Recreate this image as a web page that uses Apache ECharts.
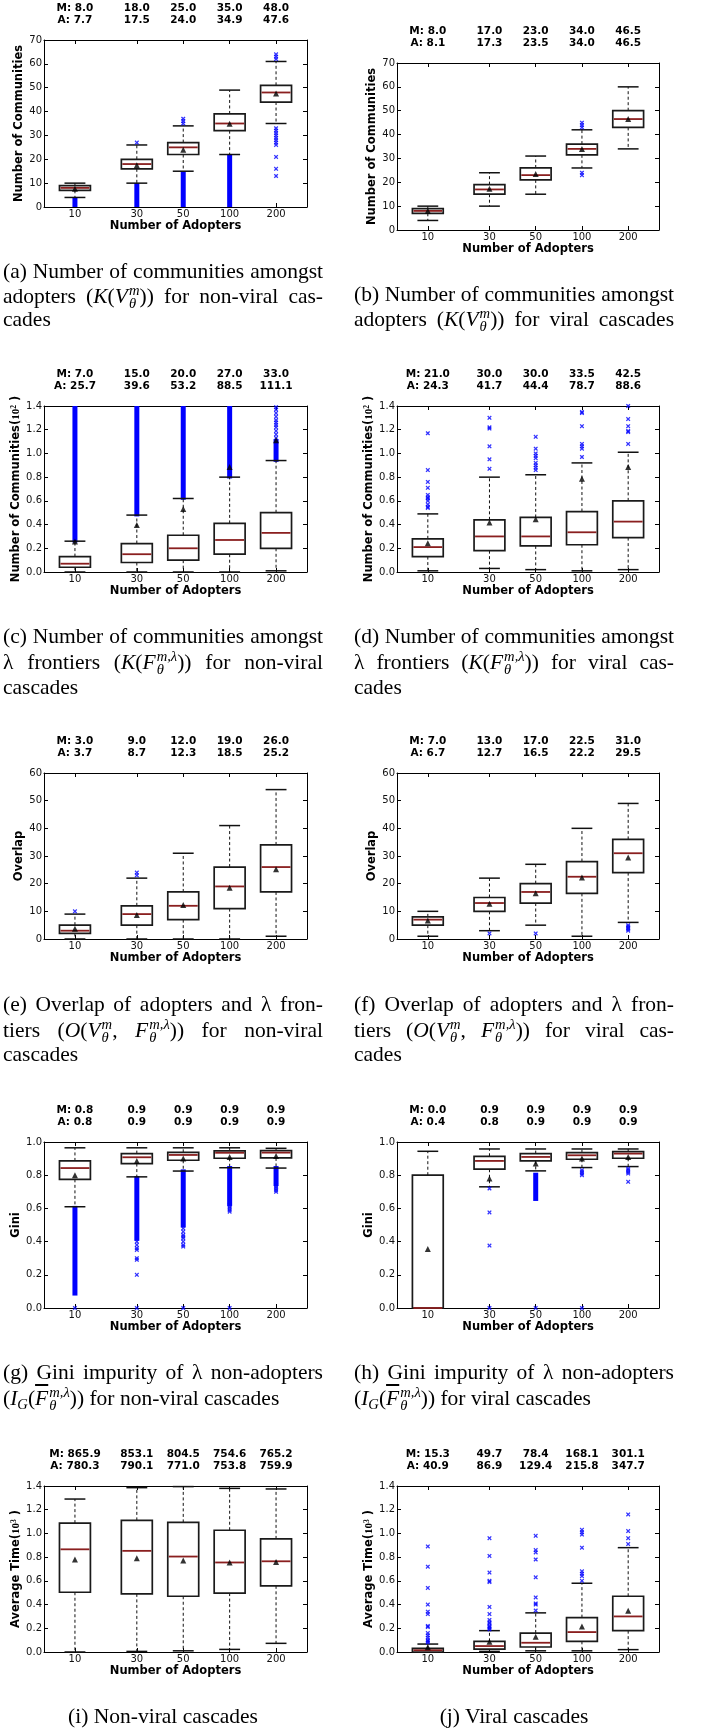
<!DOCTYPE html>
<html><head><meta charset="utf-8">
<script src="https://cdn.jsdelivr.net/npm/echarts@6/dist/echarts.min.js"></script>
<style>
html,body{margin:0;padding:0;background:#fff;}
#chart{position:absolute;left:0;top:0;width:701px;height:1729px;}
.cap{position:absolute;font-family:'Liberation Serif','Times New Roman',serif;font-size:21.5px;line-height:26px;height:26px;white-space:nowrap;color:#000;}
.j{text-align:justify;text-align-last:justify;width:320px;}
.mi{font-style:italic;}
.ss{display:inline-flex;flex-direction:column;font-size:0.68em;line-height:0.9;vertical-align:0.55em;font-style:italic;margin-left:1px;}
.sb{font-size:0.68em;vertical-align:-0.3em;font-style:italic;}
.ob{text-decoration:overline;}
</style></head>
<body>
<div id="chart"></div>

<div class="cap j" style="left:3px;top:258px;">(a) Number of communities amongst</div>
<div class="cap j" style="left:3px;top:283px;">adopters (<span class="mi">K</span>(<span class="mi">V</span><span class="ss"><span>m</span><span>θ</span></span>)) for non-viral cas-</div>
<div class="cap" style="left:3px;top:306px;">cades</div>

<div class="cap j" style="left:354px;top:281px;">(b) Number of communities amongst</div>
<div class="cap j" style="left:354px;top:306px;">adopters (<span class="mi">K</span>(<span class="mi">V</span><span class="ss"><span>m</span><span>θ</span></span>)) for viral cascades</div>

<div class="cap j" style="left:3px;top:623px;">(c) Number of communities amongst</div>
<div class="cap j" style="left:3px;top:649px;">λ frontiers (<span class="mi">K</span>(<span class="mi">F</span><span class="ss"><span>m,λ</span><span>θ</span></span>)) for non-viral</div>
<div class="cap" style="left:3px;top:674px;">cascades</div>

<div class="cap j" style="left:354px;top:623px;">(d) Number of communities amongst</div>
<div class="cap j" style="left:354px;top:649px;">λ frontiers (<span class="mi">K</span>(<span class="mi">F</span><span class="ss"><span>m,λ</span><span>θ</span></span>)) for viral cas-</div>
<div class="cap" style="left:354px;top:674px;">cades</div>

<div class="cap j" style="left:3px;top:991px;">(e) Overlap of adopters and λ fron-</div>
<div class="cap j" style="left:3px;top:1017px;">tiers (<span class="mi">O</span>(<span class="mi">V</span><span class="ss"><span>m</span><span>θ</span></span>, <span class="mi">F</span><span class="ss"><span>m,λ</span><span>θ</span></span>)) for non-viral</div>
<div class="cap" style="left:3px;top:1041px;">cascades</div>

<div class="cap j" style="left:354px;top:991px;">(f) Overlap of adopters and λ fron-</div>
<div class="cap j" style="left:354px;top:1017px;">tiers (<span class="mi">O</span>(<span class="mi">V</span><span class="ss"><span>m</span><span>θ</span></span>, <span class="mi">F</span><span class="ss"><span>m,λ</span><span>θ</span></span>)) for viral cas-</div>
<div class="cap" style="left:354px;top:1041px;">cades</div>

<div class="cap j" style="left:3px;top:1359px;">(g) Gini impurity of λ non-adopters</div>
<div class="cap" style="left:3px;top:1385px;">(<span class="mi">I</span><span class="sb">G</span>(<span class="mi ob">F</span><span class="ss"><span>m,λ</span><span>θ</span></span>)) for non-viral cascades</div>

<div class="cap j" style="left:354px;top:1359px;">(h) Gini impurity of λ non-adopters</div>
<div class="cap" style="left:354px;top:1385px;">(<span class="mi">I</span><span class="sb">G</span>(<span class="mi ob">F</span><span class="ss"><span>m,λ</span><span>θ</span></span>)) for viral cascades</div>

<div class="cap" style="left:3px;top:1703px;width:320px;text-align:center;">(i) Non-viral cascades</div>
<div class="cap" style="left:354px;top:1703px;width:320px;text-align:center;">(j) Viral cascades</div>

<script>
// ---------- shared x categories ----------
const X_POS = [2, 6, 9, 12, 15];
const X_LABELS = ['10', '30', '50', '100', '200'];

// ---------- (a) communities amongst adopters, non-viral ----------
const A_LOW  = [4, 10, 15, 22, 35];
const A_Q1   = [7, 16, 22, 32, 44];
const A_MED  = [8, 18, 25, 35, 48];
const A_Q3   = [9, 20, 27, 39, 51];
const A_HIGH = [10, 26, 34, 49, 61];
const A_MEAN = [7.7, 17.5, 24.0, 34.9, 47.6];
const A_STAT_M = [8.0, 18.0, 25.0, 35.0, 48.0];
const A_STAT_A = [7.7, 17.5, 24.0, 34.9, 47.6];
const A_BAND = [[0, 0, 3], [1, 0, 9], [2, 0, 14], [3, 0, 21]];
const A_OUT = [[1, 27], [2, 35], [2, 36], [2, 37], [4, 62], [4, 63], [4, 64], [4, 33], [4, 32], [4, 31], [4, 30], [4, 29], [4, 28], [4, 27], [4, 26], [4, 21], [4, 16], [4, 13]];

// ---------- (b) communities amongst adopters, viral ----------
const B_LOW  = [4, 10, 15, 26, 34];
const B_Q1   = [7, 15, 21, 31.5, 43];
const B_MED  = [8, 17, 23, 34, 46.5];
const B_Q3   = [9, 19, 26, 36, 50];
const B_HIGH = [10, 24, 31, 42, 60];
const B_MEAN = [8.1, 17.3, 23.5, 34.0, 46.5];
const B_STAT_M = [8.0, 17.0, 23.0, 34.0, 46.5];
const B_STAT_A = [8.1, 17.3, 23.5, 34.0, 46.5];
const B_BAND = [];
const B_OUT = [[3, 43], [3, 44], [3, 45], [3, 23], [3, 24]];

// ---------- (c) communities amongst frontiers, non-viral (x10^2) ----------
const C_LOW  = [0, 0, 0, 0, 0.01];
const C_Q1   = [0.04, 0.08, 0.10, 0.15, 0.20];
const C_MED  = [0.07, 0.15, 0.20, 0.27, 0.33];
const C_Q3   = [0.13, 0.24, 0.31, 0.41, 0.50];
const C_HIGH = [0.26, 0.48, 0.62, 0.80, 0.94];
const C_MEAN = [0.257, 0.396, 0.532, 0.885, 1.111];
const C_STAT_M = [7.0, 15.0, 20.0, 27.0, 33.0];
const C_STAT_A = [25.7, 39.6, 53.2, 88.5, 111.1];
const C_BAND = [[0, 0.27, 1.4], [1, 0.49, 1.4], [2, 0.63, 1.4], [3, 0.81, 1.4], [4, 0.95, 1.10]];
const C_OUT = [[4, 1.13], [4, 1.16], [4, 1.19], [4, 1.22], [4, 1.24], [4, 1.26], [4, 1.28], [4, 1.31], [4, 1.34], [4, 1.37], [4, 1.39]];

// ---------- (d) communities amongst frontiers, viral (x10^2) ----------
const D_LOW  = [0.01, 0.03, 0.02, 0.01, 0.02];
const D_Q1   = [0.13, 0.18, 0.22, 0.23, 0.29];
const D_MED  = [0.21, 0.30, 0.30, 0.335, 0.425];
const D_Q3   = [0.28, 0.44, 0.46, 0.51, 0.60];
const D_HIGH = [0.49, 0.80, 0.82, 0.92, 1.01];
const D_MEAN = [0.243, 0.417, 0.444, 0.787, 0.886];
const D_STAT_M = [21.0, 30.0, 30.0, 33.5, 42.5];
const D_STAT_A = [24.3, 41.7, 44.4, 78.7, 88.6];
const D_BAND = [];
const D_OUT = [
  [0, 1.17], [0, 0.86], [0, 0.76], [0, 0.71], [0, 0.65], [0, 0.63], [0, 0.62], [0, 0.60], [0, 0.57], [0, 0.55], [0, 0.54],
  [1, 1.30], [1, 1.22], [1, 1.21], [1, 1.06], [1, 0.95], [1, 0.87],
  [2, 1.14], [2, 1.04], [2, 1.00], [2, 0.98], [2, 0.96], [2, 0.92], [2, 0.90], [2, 0.88], [2, 0.86],
  [3, 1.35], [3, 1.34], [3, 1.23], [3, 1.08], [3, 1.06], [3, 1.04], [3, 0.97],
  [4, 1.40], [4, 1.29], [4, 1.23], [4, 1.19], [4, 1.18], [4, 1.08]
];

// ---------- (e) overlap, non-viral ----------
const E_LOW  = [0, 0, 0, 0, 1];
const E_Q1   = [2, 5, 7, 11, 17];
const E_MED  = [3, 9, 12, 19, 26];
const E_Q3   = [5, 12, 17, 26, 34];
const E_HIGH = [9, 22, 31, 41, 54];
const E_MEAN = [3.7, 8.7, 12.3, 18.5, 25.2];
const E_STAT_M = [3.0, 9.0, 12.0, 19.0, 26.0];
const E_STAT_A = [3.7, 8.7, 12.3, 18.5, 25.2];
const E_BAND = [];
const E_OUT = [[0, 10], [1, 23], [1, 24]];

// ---------- (f) overlap, viral ----------
const F_LOW  = [1, 3, 5, 1, 6];
const F_Q1   = [5, 10, 13, 16.5, 24];
const F_MED  = [7, 13, 17, 22.5, 31];
const F_Q3   = [8, 15, 20, 28, 36];
const F_HIGH = [10, 22, 27, 40, 49];
const F_MEAN = [6.7, 12.7, 16.5, 22.2, 29.5];
const F_STAT_M = [7.0, 13.0, 17.0, 22.5, 31.0];
const F_STAT_A = [6.7, 12.7, 16.5, 22.2, 29.5];
const F_BAND = [];
const F_OUT = [[1, 2], [2, 2], [4, 5], [4, 4.5], [4, 4], [4, 3.5], [4, 3]];

// ---------- (g) Gini, non-viral ----------
const G_LOW  = [0.61, 0.79, 0.825, 0.845, 0.843];
const G_Q1   = [0.775, 0.87, 0.89, 0.902, 0.904];
const G_MED  = [0.843, 0.908, 0.922, 0.935, 0.936];
const G_Q3   = [0.886, 0.93, 0.938, 0.946, 0.948];
const G_HIGH = [0.965, 0.965, 0.965, 0.965, 0.962];
const G_MEAN = [0.80, 0.885, 0.90, 0.91, 0.915];
const G_STAT_M = [0.8, 0.9, 0.9, 0.9, 0.9];
const G_STAT_A = [0.8, 0.9, 0.9, 0.9, 0.9];
const G_BAND = [[0, 0.09, 0.60], [1, 0.42, 0.78], [2, 0.50, 0.82], [3, 0.63, 0.84], [4, 0.75, 0.84]];
const G_OUT = [
  [0, 0],
  [1, 0.40], [1, 0.38], [1, 0.36], [1, 0.35], [1, 0.30], [1, 0.29], [1, 0.20], [1, 0],
  [2, 0.48], [2, 0.46], [2, 0.44], [2, 0.43], [2, 0.42], [2, 0.40], [2, 0.38], [2, 0.37], [2, 0],
  [3, 0.62], [3, 0.61], [3, 0.60], [3, 0.59], [3, 0.58], [3, 0],
  [4, 0.74], [4, 0.73], [4, 0.72], [4, 0.71], [4, 0.70]
];

// ---------- (h) Gini, viral ----------
const H_LOW  = [0, 0.73, 0.826, 0.846, 0.852];
const H_Q1   = [0, 0.836, 0.886, 0.896, 0.902];
const H_MED  = [0, 0.886, 0.91, 0.92, 0.93];
const H_Q3   = [0.80, 0.914, 0.93, 0.936, 0.942];
const H_HIGH = [0.944, 0.958, 0.958, 0.958, 0.958];
const H_MEAN = [0.355, 0.78, 0.87, 0.90, 0.91];
const H_STAT_M = [0.0, 0.9, 0.9, 0.9, 0.9];
const H_STAT_A = [0.4, 0.8, 0.9, 0.9, 0.9];
const H_BAND = [[2, 0.66, 0.80]];
const H_OUT = [[1, 0.72], [1, 0.576], [1, 0.376], [1, 0], [2, 0], [3, 0.83], [3, 0.82], [3, 0.81], [3, 0.80], [3, 0], [4, 0.84], [4, 0.83], [4, 0.82], [4, 0.81], [4, 0.76]];

// ---------- (i) average time, non-viral (x10^3) ----------
const I_LOW  = [0.0, 0.005, 0.01, 0.022, 0.073];
const I_Q1   = [0.504, 0.49, 0.47, 0.497, 0.558];
const I_MED  = [0.866, 0.853, 0.805, 0.755, 0.765];
const I_Q3   = [1.087, 1.11, 1.093, 1.027, 0.954];
const I_HIGH = [1.29, 1.386, 1.395, 1.38, 1.375];
const I_MEAN = [0.780, 0.790, 0.771, 0.754, 0.760];
const I_STAT_M = [865.9, 853.1, 804.5, 754.6, 765.2];
const I_STAT_A = [780.3, 790.1, 771.0, 753.8, 759.9];
const I_BAND = [];
const I_OUT = [];

// ---------- (j) average time, viral (x10^3) ----------
const J_LOW  = [0, 0.005, 0.01, 0.01, 0.02];
const J_Q1   = [0.0, 0.025, 0.042, 0.09, 0.18];
const J_MED  = [0.015, 0.05, 0.078, 0.168, 0.30];
const J_Q3   = [0.03, 0.09, 0.16, 0.29, 0.47];
const J_HIGH = [0.067, 0.18, 0.33, 0.58, 0.88];
const J_MEAN = [0.041, 0.087, 0.129, 0.216, 0.348];
const J_STAT_M = [15.3, 49.7, 78.4, 168.1, 301.1];
const J_STAT_A = [40.9, 86.9, 129.4, 215.8, 347.7];
const J_BAND = [];
const J_OUT = [
  [0, 0.89], [0, 0.72], [0, 0.54], [0, 0.40], [0, 0.34], [0, 0.32], [0, 0.22], [0, 0.21], [0, 0.16], [0, 0.14], [0, 0.12], [0, 0.10], [0, 0.09], [0, 0.08],
  [1, 0.96], [1, 0.81], [1, 0.67], [1, 0.60], [1, 0.59], [1, 0.38], [1, 0.32], [1, 0.27], [1, 0.25], [1, 0.24], [1, 0.22], [1, 0.21], [1, 0.20], [1, 0.19],
  [2, 0.98], [2, 0.86], [2, 0.84], [2, 0.78], [2, 0.63], [2, 0.46], [2, 0.41], [2, 0.40], [2, 0.35],
  [3, 1.03], [3, 1.01], [3, 0.99], [3, 0.88], [3, 0.68], [3, 0.66], [3, 0.64], [3, 0.60],
  [4, 1.16], [4, 1.02], [4, 0.96], [4, 0.91]
];

// ---------- axis names ----------
const NAME_COMM = 'Number of Communities';
const NAME_COMM_E2 = '{b|Number of Communities(}{m|10}{s|2}{b| )}';
const NAME_OVERLAP = 'Overlap';
const NAME_GINI = 'Gini';
const NAME_TIME_E3 = '{b|Average Time(}{m|10}{s|3}{b| )}';

const PANELS = [
  {low: A_LOW, q1: A_Q1, med: A_MED, q3: A_Q3, high: A_HIGH, mean: A_MEAN, sm: A_STAT_M, sa: A_STAT_A, band: A_BAND, out: A_OUT, yName: NAME_COMM, yMax: 70, yInt: 10, dec: 0},
  {low: B_LOW, q1: B_Q1, med: B_MED, q3: B_Q3, high: B_HIGH, mean: B_MEAN, sm: B_STAT_M, sa: B_STAT_A, band: B_BAND, out: B_OUT, yName: NAME_COMM, yMax: 70, yInt: 10, dec: 0},
  {low: C_LOW, q1: C_Q1, med: C_MED, q3: C_Q3, high: C_HIGH, mean: C_MEAN, sm: C_STAT_M, sa: C_STAT_A, band: C_BAND, out: C_OUT, yName: NAME_COMM_E2, yMax: 1.4, yInt: 0.2, dec: 1},
  {low: D_LOW, q1: D_Q1, med: D_MED, q3: D_Q3, high: D_HIGH, mean: D_MEAN, sm: D_STAT_M, sa: D_STAT_A, band: D_BAND, out: D_OUT, yName: NAME_COMM_E2, yMax: 1.4, yInt: 0.2, dec: 1},
  {low: E_LOW, q1: E_Q1, med: E_MED, q3: E_Q3, high: E_HIGH, mean: E_MEAN, sm: E_STAT_M, sa: E_STAT_A, band: E_BAND, out: E_OUT, yName: NAME_OVERLAP, yMax: 60, yInt: 10, dec: 0},
  {low: F_LOW, q1: F_Q1, med: F_MED, q3: F_Q3, high: F_HIGH, mean: F_MEAN, sm: F_STAT_M, sa: F_STAT_A, band: F_BAND, out: F_OUT, yName: NAME_OVERLAP, yMax: 60, yInt: 10, dec: 0},
  {low: G_LOW, q1: G_Q1, med: G_MED, q3: G_Q3, high: G_HIGH, mean: G_MEAN, sm: G_STAT_M, sa: G_STAT_A, band: G_BAND, out: G_OUT, yName: NAME_GINI, yMax: 1.0, yInt: 0.2, dec: 1},
  {low: H_LOW, q1: H_Q1, med: H_MED, q3: H_Q3, high: H_HIGH, mean: H_MEAN, sm: H_STAT_M, sa: H_STAT_A, band: H_BAND, out: H_OUT, yName: NAME_GINI, yMax: 1.0, yInt: 0.2, dec: 1},
  {low: I_LOW, q1: I_Q1, med: I_MED, q3: I_Q3, high: I_HIGH, mean: I_MEAN, sm: I_STAT_M, sa: I_STAT_A, band: I_BAND, out: I_OUT, yName: NAME_TIME_E3, yMax: 1.4, yInt: 0.2, dec: 1},
  {low: J_LOW, q1: J_Q1, med: J_MED, q3: J_Q3, high: J_HIGH, mean: J_MEAN, sm: J_STAT_M, sa: J_STAT_A, band: J_BAND, out: J_OUT, yName: NAME_TIME_E3, yMax: 1.4, yInt: 0.2, dec: 1}
];

// layout (pixels) for each panel's plotting area
const LAYOUT = [
  {left: 44, top: 40, width: 263, height: 167, nameGap: 15},
  {left: 397, top: 63, width: 262, height: 167, nameGap: 17},
  {left: 44, top: 406, width: 263, height: 166, nameGap: 20},
  {left: 397, top: 406, width: 262, height: 166, nameGap: 21},
  {left: 44, top: 773, width: 263, height: 166, nameGap: 17},
  {left: 397, top: 773, width: 262, height: 166, nameGap: 17},
  {left: 44, top: 1142, width: 263, height: 166, nameGap: 19},
  {left: 397, top: 1142, width: 262, height: 166, nameGap: 19},
  {left: 44, top: 1486, width: 263, height: 166, nameGap: 20},
  {left: 397, top: 1486, width: 262, height: 166, nameGap: 21}
];

const FONT = "'DejaVu Sans', sans-serif";
const BOX_W = 2.0, CAP_W = 1.35;
const X_SHAPE = 'path://M0,2L2,0L5,3L8,0L10,2L7,5L10,8L8,10L5,7L2,10L0,8L3,5Z';

function renderBox(params, api) {
  const x = api.value(0);
  const pLow = api.coord([x, api.value(1)]);
  const pQ1 = api.coord([x, api.value(2)]);
  const pMed = api.coord([x, api.value(3)]);
  const pQ3 = api.coord([x, api.value(4)]);
  const pHigh = api.coord([x, api.value(5)]);
  const bw = api.size([BOX_W, 0])[0];
  const cw = api.size([CAP_W, 0])[0];
  const cx = pMed[0];
  const dash = {stroke: '#111', lineWidth: 1, lineDash: [3, 2.5]};
  const cap = {stroke: '#111', lineWidth: 1.5};
  return {
    type: 'group',
    children: [
      {type: 'line', shape: {x1: cx, y1: pQ3[1], x2: cx, y2: pHigh[1]}, style: dash},
      {type: 'line', shape: {x1: cx, y1: pQ1[1], x2: cx, y2: pLow[1]}, style: dash},
      {type: 'line', shape: {x1: cx - cw / 2, y1: pHigh[1], x2: cx + cw / 2, y2: pHigh[1]}, style: cap},
      {type: 'line', shape: {x1: cx - cw / 2, y1: pLow[1], x2: cx + cw / 2, y2: pLow[1]}, style: cap},
      {type: 'rect', shape: {x: cx - bw / 2, y: pQ3[1], width: bw, height: pQ1[1] - pQ3[1]}, style: {fill: '#fff', stroke: '#1a1a1a', lineWidth: 1.7}},
      {type: 'line', shape: {x1: cx - bw / 2 + 1, y1: pMed[1], x2: cx + bw / 2 - 1, y2: pMed[1]}, style: {stroke: '#8a1f1f', lineWidth: 1.8}}
    ]
  };
}

function renderBand(params, api) {
  const x = api.value(0);
  const p1 = api.coord([x, api.value(1)]);
  const p2 = api.coord([x, api.value(2)]);
  const w = 5;
  return {type: 'rect', shape: {x: p1[0] - w / 2, y: p2[1] - 2.5, width: w, height: p1[1] - p2[1] + 5}, style: {fill: '#0000ff'}};
}

const grid = [], xAxis = [], yAxis = [], series = [];
const lineStyle = {color: '#000', width: 1};

PANELS.forEach((p, i) => {
  const L = LAYOUT[i];
  grid.push({left: L.left, top: L.top, width: L.width, height: L.height, containLabel: false});
  const nameRich = {
    b: {fontWeight: 'bold', fontSize: 11.5, fontFamily: FONT, color: '#000'},
    m: {fontFamily: "'Liberation Serif', serif", fontSize: 11, color: '#000'},
    s: {fontFamily: "'Liberation Serif', serif", fontSize: 7.5, color: '#000', verticalAlign: 'top', padding: [0, 0, 5, 0]}
  };
  xAxis.push({
    type: 'value', gridIndex: i, min: 0, max: 17, position: 'bottom',
    axisLine: {show: true, onZero: false, lineStyle},
    axisTick: {show: true, inside: true, length: 4, customValues: X_POS, lineStyle},
    axisLabel: {show: true, customValues: X_POS, formatter: v => X_LABELS[X_POS.indexOf(v)], margin: 2, fontSize: 10, color: '#111', fontFamily: FONT},
    splitLine: {show: false},
    name: 'Number of Adopters', nameLocation: 'middle', nameGap: 12,
    nameTextStyle: {fontWeight: 'bold', fontSize: 11.5, fontFamily: FONT, color: '#000'}
  });
  xAxis.push({
    type: 'value', gridIndex: i, min: 0, max: 17, position: 'top',
    axisLine: {show: true, onZero: false, lineStyle},
    axisTick: {show: true, inside: true, length: 4, customValues: X_POS, lineStyle},
    axisLabel: {
      show: true, customValues: X_POS, margin: 14, fontSize: 10.5, fontWeight: 'bold', lineHeight: 12, color: '#000', fontFamily: FONT,
      formatter: v => {
        const k = X_POS.indexOf(v);
        const m = p.sm[k].toFixed(1), a = p.sa[k].toFixed(1);
        return k === 0 ? ('M: ' + m + '\nA: ' + a) : (m + '\n' + a);
      }
    },
    splitLine: {show: false}
  });
  yAxis.push({
    type: 'value', gridIndex: i, min: 0, max: p.yMax, interval: p.yInt, position: 'left',
    axisLine: {show: true, onZero: false, lineStyle},
    axisTick: {show: true, inside: true, length: 4, lineStyle},
    axisLabel: {show: true, formatter: v => v.toFixed(p.dec), margin: 2, fontSize: 10, color: '#111', fontFamily: FONT},
    splitLine: {show: false},
    name: p.yName, nameLocation: 'middle', nameGap: L.nameGap,
    nameTextStyle: {fontWeight: 'bold', fontSize: 11.5, fontFamily: FONT, color: '#000', rich: nameRich}
  });
  yAxis.push({
    type: 'value', gridIndex: i, min: 0, max: p.yMax, interval: p.yInt, position: 'right',
    axisLine: {show: true, onZero: false, lineStyle},
    axisTick: {show: true, inside: true, length: 4, lineStyle},
    axisLabel: {show: false},
    splitLine: {show: false}
  });

  const xi = 2 * i, yi = 2 * i;
  if (p.band.length) {
    series.push({
      type: 'custom', xAxisIndex: xi, yAxisIndex: yi, clip: true, silent: true,
      renderItem: renderBand, encode: {x: 0, y: [1, 2]},
      data: p.band.map(b => [X_POS[b[0]], b[1], b[2]])
    });
  }
  if (p.out.length) {
    series.push({
      type: 'scatter', xAxisIndex: xi, yAxisIndex: yi, clip: true, silent: true,
      symbol: X_SHAPE, symbolSize: 4.5, itemStyle: {color: '#0000ff'},
      data: p.out.map(o => [X_POS[o[0]], o[1]])
    });
  }
  series.push({
    type: 'custom', xAxisIndex: xi, yAxisIndex: yi, clip: false, silent: true,
    renderItem: renderBox, encode: {x: 0, y: [1, 2, 3, 4, 5]},
    data: X_POS.map((x, k) => [x, p.low[k], p.q1[k], p.med[k], p.q3[k], p.high[k]])
  });
  series.push({
    type: 'scatter', xAxisIndex: xi, yAxisIndex: yi, silent: true,
    symbol: 'triangle', symbolSize: 6, itemStyle: {color: '#000'},
    data: X_POS.map((x, k) => [x, p.mean[k]])
  });
});

const chart = echarts.init(document.getElementById('chart'), null, {renderer: 'canvas'});
chart.setOption({
  animation: false,
  backgroundColor: '#fff',
  grid, xAxis, yAxis, series
});
</script>
</body></html>
